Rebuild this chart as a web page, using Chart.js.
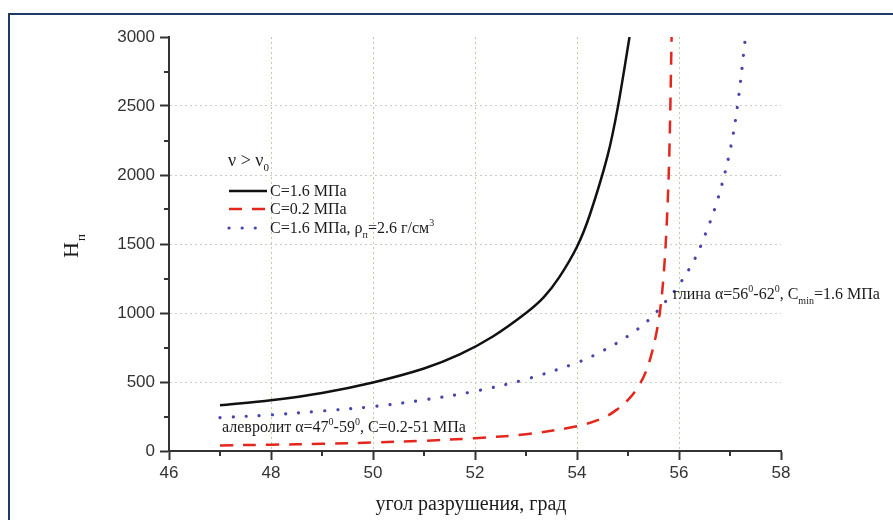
<!DOCTYPE html>
<html>
<head>
<meta charset="utf-8">
<script src="https://cdn.jsdelivr.net/npm/chart.js@4.4.1/dist/chart.umd.min.js"></script>
<style>
  html, body { margin: 0; padding: 0; background: #fff; overflow: hidden; }
  #wrap { position: relative; width: 893px; height: 520px; }
  #frame { position: absolute; left: 8px; top: 13px; width: 900px; height: 520px;
           border-left: 2px solid #1d3a68; border-top: 2px solid #1d3a68; }
  #chart { position: absolute; left: 0; top: 0; }
</style>
</head>
<body>
<div id="wrap">
  <div id="frame"></div>
  <canvas id="chart" width="893" height="520"></canvas>
</div>
<script>
// failure angle (deg) and H for each curve
const angleC16 = [47, 48, 49, 50, 51, 51.7, 52.35, 53, 53.35, 53.65, 54, 54.25, 54.6, 54.8, 55.03];
const heightC16 = [331, 368, 421, 497, 598, 700, 830, 1000, 1115, 1258, 1480, 1710, 2140, 2490, 3000];

const angleC02 = [47, 48, 49, 50, 51, 52, 53, 54, 54.5, 54.8, 55, 55.2, 55.35, 55.45, 55.55, 55.63, 55.7, 55.76, 55.81, 55.855];
const heightC02 = [40, 46, 52, 62, 74, 93, 122, 180, 237, 305, 370, 465, 575, 688, 842, 1020, 1280, 1650, 2150, 3000];

const angleRho = [47, 48, 49, 50, 51, 52, 53, 54, 54.5, 55, 55.4, 55.8, 56, 56.3, 56.5, 56.75, 57, 57.15, 57.3];
const heightRho = [242, 262, 290, 322, 370, 433, 520, 640, 725, 833, 948, 1110, 1203, 1385, 1555, 1812, 2175, 2510, 2990];

const xMin = 46, xMax = 58, xStep = 2;
const yMin = 0, yMax = 3000, yStep = 500;
const xMinor = [47, 49, 51, 53, 55, 57];
const yMinor = [250, 750, 1250, 1750, 2250, 2750];

const legendHead = [['ν > ν'], ['0', 'sub']];
const legendLabels = [
  [['C=1.6 МПа']],
  [['C=0.2 МПа']],
  [['C=1.6 МПа, ρ'], ['п', 'sub'], ['=2.6 г/см'], ['3', 'sup']]
];
const clayNote = [['глина α=56'], ['0', 'sup'], ['-62'], ['0', 'sup'], [', C'], ['min', 'sub'], ['=1.6 МПа']];
const siltNote = [['алевролит α=47'], ['0', 'sup'], ['-59'], ['0', 'sup'], [', C=0.2-51 МПа']];
const xTitle = 'угол разрушения, град';

const SERIF = '"Liberation Serif", "Times New Roman", serif';
const SANS = '"Liberation Sans", Arial, sans-serif';
const INK = '#1c1c1c';

function toPoints(xs, ys) {
  return xs.map((x, i) => ({ x: x, y: ys[i] }));
}

// writes text pieces one after another, shrinking and shifting sub/sup parts
function drawRich(ctx, x, y, parts, size) {
  let cx = x;
  parts.forEach(p => {
    const text = p[0], kind = p[1] || '';
    const s = kind ? Math.round(size * 0.62) : size;
    const dy = kind === 'sub' ? size * 0.3 : kind === 'sup' ? -size * 0.42 : 0;
    ctx.font = s + 'px ' + SERIF;
    ctx.fillText(text, cx, y + dy);
    cx += ctx.measureText(text).width;
  });
  return cx;
}

const minorTicks = {
  id: 'minorTicks',
  afterDraw(chart) {
    const ctx = chart.ctx, xs = chart.scales.x, ys = chart.scales.y;
    const bottom = chart.chartArea.bottom, left = chart.chartArea.left;
    ctx.save();
    ctx.strokeStyle = '#333';
    ctx.lineWidth = 2;
    ctx.beginPath();
    xMinor.forEach(v => {
      const px = Math.round(xs.getPixelForValue(v));
      ctx.moveTo(px, bottom); ctx.lineTo(px, bottom + 5);
    });
    yMinor.forEach(v => {
      const py = Math.round(ys.getPixelForValue(v));
      ctx.moveTo(left - 5, py); ctx.lineTo(left, py);
    });
    ctx.stroke();
    ctx.restore();
  }
};

const labels = {
  id: 'labels',
  afterDatasetsDraw(chart) {
    const ctx = chart.ctx;
    ctx.save();
    ctx.fillStyle = INK;
    ctx.textBaseline = 'alphabetic';
    ctx.textAlign = 'left';

    // legend block
    drawRich(ctx, 228, 166, legendHead, 18);
    const rows = [191, 209, 228];
    chart.data.datasets.forEach((ds, i) => {
      const y = rows[i];
      ctx.save();
      ctx.beginPath();
      ctx.strokeStyle = ds.borderColor;
      ctx.lineWidth = ds.borderWidth;
      ctx.lineCap = ds.borderCapStyle || 'butt';
      ctx.setLineDash(ds.borderDash || []);
      ctx.moveTo(229, y);
      ctx.lineTo(267, y);
      ctx.stroke();
      ctx.restore();
      drawRich(ctx, 270, y + 5, legendLabels[i], 16);
    });

    // notes on the plot
    drawRich(ctx, 673, 299, clayNote, 16);
    drawRich(ctx, 222, 432, siltNote, 16);

    // axis titles
    ctx.font = '20px ' + SERIF;
    ctx.textAlign = 'center';
    ctx.fillText(xTitle, 471, 510);

    ctx.translate(78, 258);
    ctx.rotate(-Math.PI / 2);
    ctx.textAlign = 'left';
    ctx.font = '22px ' + SERIF;
    ctx.fillText('H', 0, 0);
    const hw = ctx.measureText('H').width;
    ctx.font = '13px ' + SERIF;
    ctx.fillText('п', hw + 1, 7);
    ctx.restore();
  }
};

function gridColor(edges, color) {
  return ctx => (ctx.tick && edges.includes(ctx.tick.value)) ? 'rgba(0,0,0,0)' : color;
}

new Chart(document.getElementById('chart'), {
  type: 'line',
  data: {
    datasets: [{
      label: 'C=1.6 МПа',
      data: toPoints(angleC16, heightC16),
      borderColor: '#111111',
      borderWidth: 2.5,
      pointRadius: 0,
      tension: 0.3,
      fill: false
    }, {
      label: 'C=0.2 МПа',
      data: toPoints(angleC02, heightC02),
      borderColor: '#e3271d',
      borderWidth: 2.5,
      borderDash: [13, 10],
      pointRadius: 0,
      tension: 0.35,
      fill: false
    }, {
      label: 'C=1.6 МПа, ρп=2.6 г/см3',
      data: toPoints(angleRho, heightRho),
      borderColor: '#4646ad',
      borderWidth: 3.2,
      borderDash: [0.1, 13],
      borderCapStyle: 'round',
      pointRadius: 0,
      tension: 0.35,
      fill: false
    }]
  },
  options: {
    responsive: false,
    animation: false,
    layout: { padding: { top: 37, right: 112, left: 0, bottom: 0 } },
    plugins: {
      legend: { display: false },
      tooltip: { enabled: false }
    },
    scales: {
      x: {
        type: 'linear',
        min: xMin,
        max: xMax,
        ticks: {
          stepSize: xStep,
          color: '#333',
          font: { family: SANS, size: 17 },
          padding: 3,
          maxRotation: 0,
          callback: v => String(v)
        },
        grid: {
          color: gridColor([xMin, xMax], '#b5d4a6'),
          lineWidth: 1,
          tickLength: 9,
          tickColor: '#333',
          tickWidth: 2
        },
        border: { color: '#333', width: 2, dash: [2, 3] },
        afterFit: s => { s.height = 69; }
      },
      y: {
        min: yMin,
        max: yMax,
        ticks: {
          stepSize: yStep,
          color: '#333',
          font: { family: SANS, size: 17 },
          padding: 5,
          callback: v => String(v)
        },
        grid: {
          color: gridColor([yMin, yMax], '#c6cfc0'),
          lineWidth: 1,
          tickLength: 9,
          tickColor: '#333',
          tickWidth: 2
        },
        border: { color: '#333', width: 2, dash: [2, 3] },
        afterFit: s => { s.width = 169; }
      }
    }
  },
  plugins: [minorTicks, labels]
});
</script>
</body>
</html>
